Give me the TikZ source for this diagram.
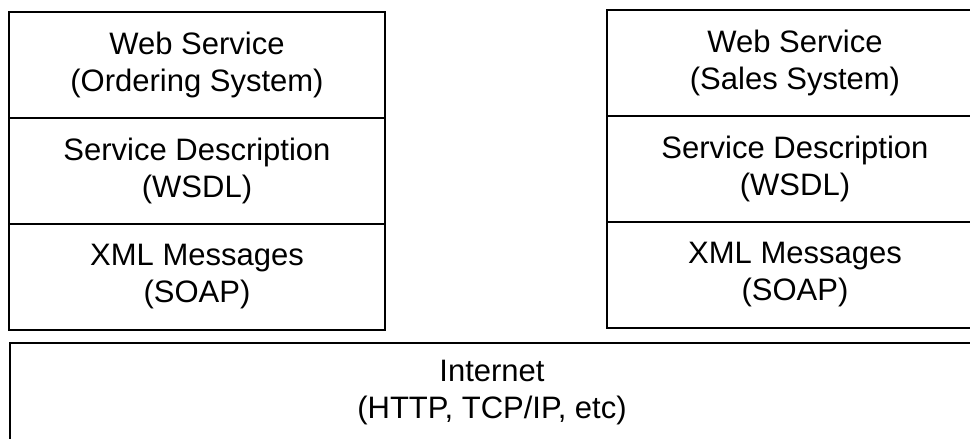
\documentclass[tikz,border=0pt]{standalone}
\usepackage{fontspec}
\setmainfont{Liberation Sans}
\usetikzlibrary{positioning}

\tikzset{
    layer/.style={draw, line width=1pt, rectangle, inner sep=0pt, outer sep=0pt,
        minimum width=188pt, minimum height=53pt, align=center,
        font=\fontsize{15.5}{18.5}\selectfont},
    netlayer/.style={layer, minimum width=482pt, minimum height=50pt}
}

\begin{document}
\begin{tikzpicture}[x=0.5pt,y=-0.5pt]
    \useasboundingbox (0,0) rectangle (970,439);
    %
    % ordering side
    \node[layer] (ordws) at (197,65) {Web Service\\(Ordering System)};
    \node[layer, below=0pt of ordws] (ordwsdl) {Service Description\\(WSDL)};
    \node[layer, below=0pt of ordwsdl] (ordsoap) {XML Messages\\(SOAP)};
    %
    % sales side
    \node[layer] (salws) at (795,63) {Web Service\\(Sales System)};
    \node[layer, below=0pt of salws] (salwsdl) {Service Description\\(WSDL)};
    \node[layer, below=0pt of salwsdl] (salsoap) {XML Messages\\(SOAP)};
    %
    \node[netlayer] (net) at (492,393) {Internet\\(HTTP, TCP/IP, etc)};
    %
\end{tikzpicture}
\end{document}
